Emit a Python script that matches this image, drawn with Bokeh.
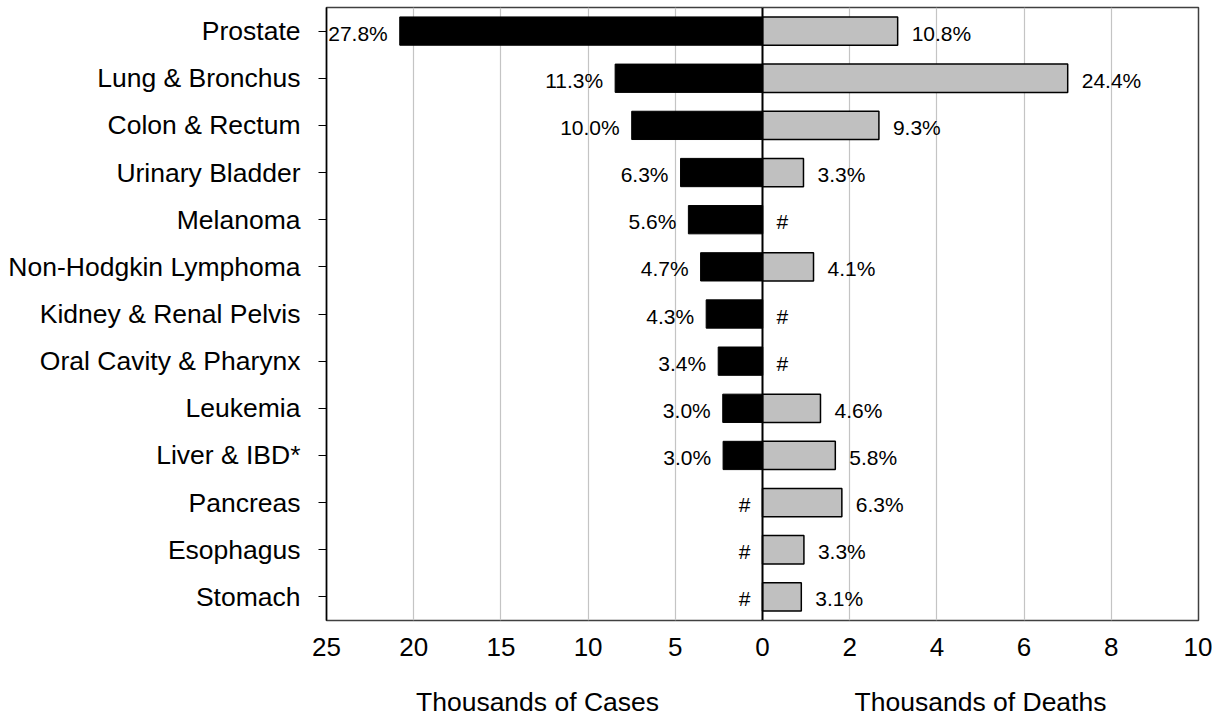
from bokeh.plotting import figure
from bokeh.models import (Range1d, FactorRange, FixedTicker, Span, ColumnDataSource,
                          LinearAxis)
from bokeh.core.properties import value
from bokeh.embed import file_html
from bokeh.resources import INLINE

# ---- data ----
categories = ["Prostate", "Lung & Bronchus", "Colon & Rectum", "Urinary Bladder",
              "Melanoma", "Non-Hodgkin Lymphoma", "Kidney & Renal Pelvis",
              "Oral Cavity & Pharynx", "Leukemia", "Liver & IBD*", "Pancreas",
              "Esophagus", "Stomach"]
cases = [20.8, 8.45, 7.5, 4.7, 4.25, 3.55, 3.23, 2.54, 2.28, 2.26, 0, 0, 0]
case_labels = ["27.8%", "11.3%", "10.0%", "6.3%", "5.6%", "4.7%", "4.3%",
               "3.4%", "3.0%", "3.0%", "#", "#", "#"]
deaths = [3.1, 7.0, 2.67, 0.94, 0, 1.17, 0, 0, 1.33, 1.67, 1.82, 0.95, 0.89]
death_labels = ["10.8%", "24.4%", "9.3%", "3.3%", "#", "4.1%", "#", "#",
                "4.6%", "5.8%", "6.3%", "3.3%", "3.1%"]
case_ticks = [0, 5, 10, 15, 20, 25]
death_ticks = [2, 4, 6, 8, 10]
axis_titles = ["Thousands of Cases", "Thousands of Deaths"]
CASES_MAX = 25
DEATHS_MAX = 10

FONT = "Liberation Sans"

src = ColumnDataSource(dict(cat=categories, cases=cases, deaths=deaths,
                            clab=case_labels, dlab=death_labels))

p = figure(
    y_range=FactorRange(factors=categories[::-1]),
    x_range=Range1d(CASES_MAX, -CASES_MAX),
    frame_width=872, frame_height=613,
    min_border_left=326, min_border_right=14, min_border_top=7, min_border_bottom=98,
    output_backend="svg", toolbar_location=None,
)
p.extra_x_ranges = {"deaths": Range1d(-DEATHS_MAX, DEATHS_MAX)}

# ticks: cases on the left half, deaths on the right half (same pixel spacing)
scale = CASES_MAX / DEATHS_MAX
death_pos = [-d * scale for d in death_ticks]
ticker = FixedTicker(ticks=case_ticks + death_pos)
ax = p.xaxis[0]
ax.ticker = ticker
ax.major_label_overrides = {pos: str(d) for pos, d in zip(death_pos, death_ticks)}
ax.major_tick_out = 0
ax.major_tick_in = 0
ax.minor_tick_line_color = None
ax.axis_line_color = None
ax.major_label_standoff = 17
ax.major_label_text_font = FONT
ax.major_label_text_font_size = "26px"
ax.major_label_text_color = "black"

# second (label-only) axis carrying the two half titles, centred under each half
title_pos = [12.9, -(DEATHS_MAX / 2) * scale]
tax = LinearAxis(ticker=FixedTicker(ticks=title_pos),
                 major_label_overrides={pos: t for pos, t in zip(title_pos, axis_titles)},
                 major_tick_out=0, major_tick_in=0, minor_tick_line_color=None,
                 axis_line_color=None, major_label_standoff=28,
                 major_label_text_font=FONT, major_label_text_font_size="26.5px",
                 major_label_text_color="black")
p.add_layout(tax, "below")

p.xgrid.ticker = ticker
p.xgrid.grid_line_color = "#c4c4c4"
p.xgrid.grid_line_width = 1.2
p.ygrid.grid_line_color = None

ya = p.yaxis[0]
ya.major_label_text_font = FONT
ya.major_label_text_font_size = "26.5px"
ya.major_label_text_color = "black"
ya.major_label_standoff = 18
ya.major_tick_out = 8
ya.major_tick_in = 0
ya.major_tick_line_color = "black"
ya.axis_line_color = "black"
ya.axis_line_width = 1.5

p.outline_line_color = "#404040"
p.outline_line_width = 1.5

# bars
p.hbar(y="cat", left=0, right="cases", height=0.6, source=src,
       fill_color="black", line_color="black", line_width=1)
p.hbar(y="cat", left=0, right="deaths", height=0.6, source=src,
       x_range_name="deaths", fill_color="#c0c0c0", line_color="black", line_width=1.5)

# center line
p.add_layout(Span(location=0, dimension="height", line_color="black", line_width=2))

# value labels
p.text(x="cases", y="cat", text="clab", source=src, text_align="right",
       text_baseline="middle", x_offset=-12, y_offset=2,
       text_font=value(FONT), text_font_size=value("21px"), text_color="black")
p.text(x="deaths", y="cat", text="dlab", source=src, x_range_name="deaths",
       text_align="left", text_baseline="middle", x_offset=14, y_offset=2,
       text_font=value(FONT), text_font_size=value("21px"), text_color="black")

open("out.html", "w").write(file_html(p, INLINE))
